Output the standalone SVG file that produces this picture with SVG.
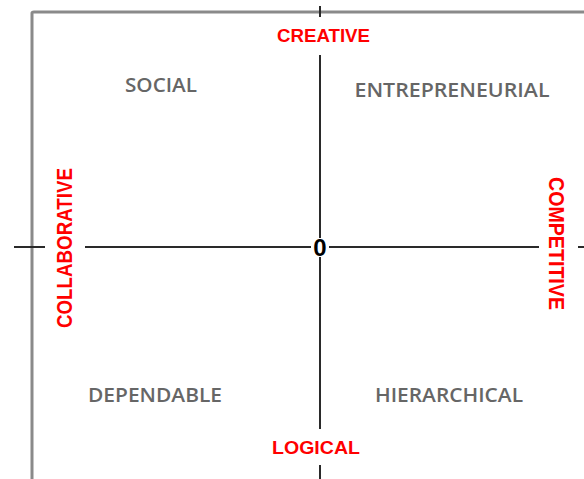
<svg xmlns="http://www.w3.org/2000/svg" width="584" height="479" viewBox="0 0 584 479">
  <style>
    .frame { fill: none; stroke: #8a8a8a; stroke-width: 3; }
    .axis { fill: none; stroke: #2a2a2a; stroke-width: 2; }
    .pole { font-family: "Liberation Sans", Arial, sans-serif; font-weight: bold; fill: #ff0000; }
    .quad { font-family: "Open Sans", "Liberation Sans", sans-serif; font-weight: 600; font-size: 19px; fill: #666666; text-anchor: middle; }
    .origin { font-family: "Liberation Sans", Arial, sans-serif; font-weight: bold; font-size: 24px; fill: #000000; text-anchor: middle; }
  </style>
  <rect width="584" height="479" fill="#ffffff"/>

  <!-- outer frame: top and left edges -->
  <g id="frame">
    <path class="frame" d="M32,479 V13 Q32,12 34,12 H584"/>
  </g>

  <!-- axes, broken around the pole labels -->
  <g id="connectors">
    <line class="axis" x1="320" y1="6" x2="320" y2="17"/>
    <line class="axis" x1="320" y1="55" x2="320" y2="238"/>
    <line class="axis" x1="320" y1="257" x2="320" y2="429"/>
    <line class="axis" x1="320" y1="465" x2="320" y2="479"/>
    <line class="axis" x1="14" y1="247" x2="45" y2="247"/>
    <line class="axis" x1="85" y1="247" x2="311" y2="247"/>
    <line class="axis" x1="329" y1="247" x2="539" y2="247"/>
    <line class="axis" x1="578" y1="247" x2="584" y2="247"/>
  </g>

  <g id="origin">
    <text class="origin" x="320" y="256">0</text>
  </g>

  <!-- pole labels -->
  <g id="creative">
    <text class="pole" x="277" y="42" font-size="18" textLength="93" lengthAdjust="spacingAndGlyphs">CREATIVE</text>
  </g>
  <g id="logical">
    <text class="pole" x="272" y="454" font-size="18" textLength="88" lengthAdjust="spacingAndGlyphs">LOGICAL</text>
  </g>
  <g id="collaborative">
    <text class="pole" transform="translate(72,328) rotate(-90)" x="0" y="0" font-size="22" textLength="160" lengthAdjust="spacingAndGlyphs">COLLABORATIVE</text>
  </g>
  <g id="competitive">
    <text class="pole" transform="translate(549,177) rotate(90)" x="0" y="0" font-size="22" textLength="133" lengthAdjust="spacingAndGlyphs">COMPETITIVE</text>
  </g>

  <!-- quadrant labels -->
  <g id="social">
    <text class="quad" x="161" y="92" textLength="72" lengthAdjust="spacingAndGlyphs">SOCIAL</text>
  </g>
  <g id="entrepreneurial">
    <text class="quad" x="452" y="97" textLength="195" lengthAdjust="spacingAndGlyphs">ENTREPRENEURIAL</text>
  </g>
  <g id="dependable">
    <text class="quad" x="155" y="402" textLength="134" lengthAdjust="spacingAndGlyphs">DEPENDABLE</text>
  </g>
  <g id="hierarchical">
    <text class="quad" x="449" y="402" textLength="148" lengthAdjust="spacingAndGlyphs">HIERARCHICAL</text>
  </g>
</svg>
